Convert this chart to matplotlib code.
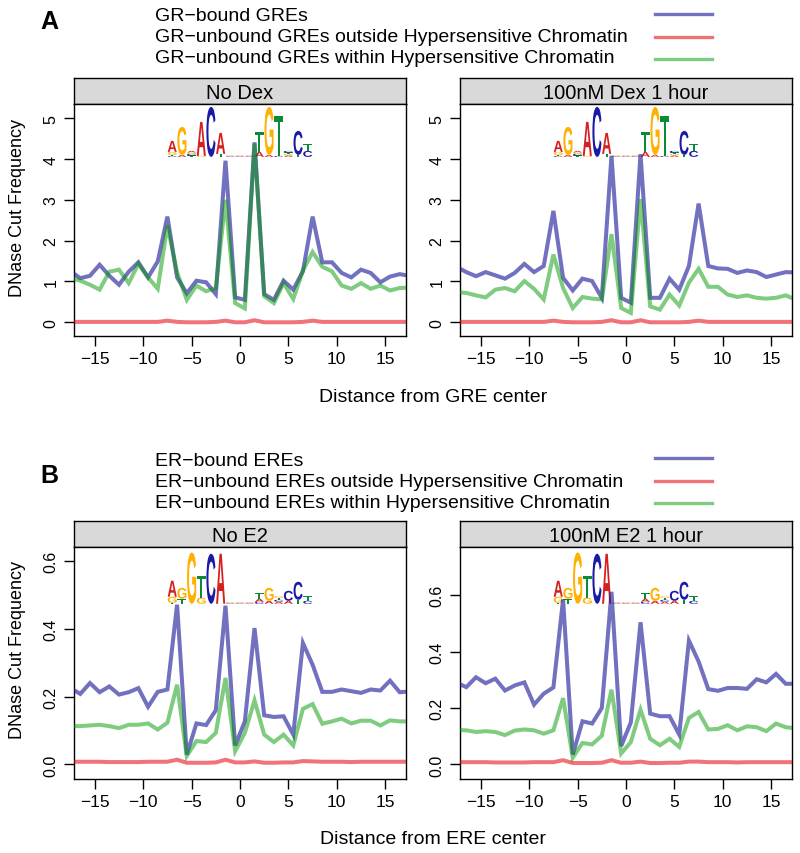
import numpy as np
import matplotlib
matplotlib.use("Agg")
import matplotlib.pyplot as plt
import matplotlib.transforms as mtransforms
from matplotlib.lines import Line2D
from matplotlib.path import Path
from matplotlib.patches import PathPatch
from matplotlib.textpath import TextPath
from matplotlib.font_manager import FontProperties

plt.rcParams['font.family'] = ['Liberation Sans', 'DejaVu Sans']

# positions relative to the motif centre
pos = np.arange(-17.5, 18, 1.0)

# panel A : GREs
gre_bound_nodex = [1.25, 1.08, 1.14, 1.41, 1.14, 0.92, 1.24, 1.47, 1.10, 1.49, 2.59, 1.10,
                   0.71, 1.02, 0.98, 0.69, 3.96, 0.61, 0.55, 4.41, 0.69, 0.55, 1.02, 0.80,
                   1.25, 2.59, 1.47, 1.47, 1.21, 1.10, 1.29, 1.21, 0.98, 1.12, 1.18, 1.14]
gre_out_nodex = [0.01, 0.01, 0.01, 0.01, 0.01, 0.01, 0.01, 0.01, 0.01, 0.01, 0.04, 0.01,
                 0.00, 0.00, 0.00, 0.01, 0.04, 0.00, 0.00, 0.05, 0.00, 0.00, 0.00, 0.00,
                 0.01, 0.04, 0.01, 0.01, 0.01, 0.01, 0.01, 0.01, 0.01, 0.01, 0.01, 0.01]
gre_in_nodex = [1.08, 1.02, 0.92, 0.80, 1.24, 1.29, 0.96, 1.43, 1.10, 0.82, 2.37, 1.23,
                0.55, 0.90, 0.76, 0.84, 3.00, 0.47, 0.34, 4.38, 0.64, 0.47, 0.96, 0.57,
                1.27, 1.72, 1.36, 1.25, 0.90, 0.82, 0.96, 0.82, 0.90, 0.78, 0.84, 0.85]

gre_bound_dex = [1.36, 1.23, 1.13, 1.23, 1.15, 1.07, 1.21, 1.43, 1.23, 1.38, 2.73, 1.09,
                 0.78, 1.07, 1.01, 0.60, 4.08, 0.60, 0.48, 4.12, 0.60, 0.60, 1.07, 0.80,
                 1.38, 2.91, 1.38, 1.32, 1.31, 1.21, 1.27, 1.23, 1.11, 1.17, 1.23, 1.22]
gre_out_dex = [0.01, 0.01, 0.01, 0.01, 0.01, 0.01, 0.01, 0.01, 0.01, 0.01, 0.04, 0.01,
               0.00, 0.00, 0.00, 0.01, 0.05, 0.00, 0.00, 0.05, 0.00, 0.00, 0.00, 0.00,
               0.01, 0.04, 0.01, 0.01, 0.01, 0.01, 0.01, 0.01, 0.01, 0.01, 0.01, 0.01]
gre_in_dex = [0.74, 0.72, 0.66, 0.61, 0.80, 0.84, 0.76, 1.01, 0.82, 0.56, 1.66, 0.84,
              0.35, 0.62, 0.58, 0.56, 2.16, 0.35, 0.23, 3.02, 0.39, 0.31, 0.68, 0.41,
              0.97, 1.31, 0.87, 0.87, 0.68, 0.62, 0.66, 0.60, 0.58, 0.60, 0.66, 0.56]

# panel B : EREs
ere_bound_noe2 = [0.225, 0.208, 0.240, 0.213, 0.230, 0.206, 0.213, 0.225, 0.170, 0.214, 0.221, 0.471,
                  0.029, 0.121, 0.116, 0.160, 0.468, 0.056, 0.127, 0.402, 0.145, 0.140, 0.142, 0.088,
                  0.358, 0.294, 0.214, 0.214, 0.221, 0.216, 0.211, 0.221, 0.218, 0.247, 0.213, 0.215]
ere_out_noe2 = [0.008, 0.008, 0.008, 0.008, 0.007, 0.007, 0.007, 0.007, 0.008, 0.008, 0.008, 0.014,
                0.005, 0.005, 0.005, 0.006, 0.014, 0.006, 0.006, 0.009, 0.005, 0.005, 0.006, 0.006,
                0.010, 0.009, 0.008, 0.008, 0.008, 0.007, 0.008, 0.008, 0.008, 0.008, 0.008, 0.008]
ere_in_noe2 = [0.113, 0.113, 0.115, 0.117, 0.113, 0.107, 0.117, 0.117, 0.121, 0.103, 0.123, 0.235,
               0.025, 0.069, 0.066, 0.093, 0.255, 0.039, 0.093, 0.189, 0.088, 0.066, 0.088, 0.056,
               0.164, 0.178, 0.120, 0.127, 0.135, 0.121, 0.129, 0.129, 0.115, 0.130, 0.127, 0.127]

ere_bound_e2 = [0.290, 0.274, 0.309, 0.288, 0.304, 0.262, 0.280, 0.291, 0.212, 0.251, 0.273, 0.585,
                0.035, 0.153, 0.145, 0.200, 0.612, 0.065, 0.149, 0.504, 0.180, 0.171, 0.171, 0.106,
                0.439, 0.365, 0.267, 0.261, 0.271, 0.271, 0.268, 0.302, 0.291, 0.321, 0.286, 0.286]
ere_out_e2 = [0.008, 0.008, 0.008, 0.008, 0.007, 0.007, 0.007, 0.007, 0.008, 0.008, 0.008, 0.015,
              0.005, 0.005, 0.005, 0.006, 0.015, 0.006, 0.006, 0.010, 0.005, 0.005, 0.006, 0.006,
              0.010, 0.010, 0.008, 0.008, 0.008, 0.007, 0.008, 0.008, 0.008, 0.008, 0.008, 0.008]
ere_in_e2 = [0.122, 0.121, 0.115, 0.118, 0.115, 0.104, 0.120, 0.124, 0.121, 0.109, 0.121, 0.235,
             0.024, 0.076, 0.071, 0.102, 0.265, 0.039, 0.079, 0.194, 0.091, 0.068, 0.091, 0.062,
             0.165, 0.186, 0.124, 0.126, 0.139, 0.121, 0.135, 0.132, 0.118, 0.145, 0.132, 0.128]

gre_labels = ["GR\u2212bound GREs",
              "GR\u2212unbound GREs outside Hypersensitive Chromatin",
              "GR\u2212unbound GREs within Hypersensitive Chromatin"]
ere_labels = ["ER\u2212bound EREs",
              "ER\u2212unbound EREs outside Hypersensitive Chromatin",
              "ER\u2212unbound EREs within Hypersensitive Chromatin"]

# sequence logos: one stack per motif position (-7..7), bottom to top, heights in bits
logo_pos = list(range(-7, 8))
gre_logo = [[("C", .04), ("T", .04), ("G", .12), ("A", .44)],
            [("A", .08), ("G", 1.12)],
            [("T", .06), ("C", .06), ("G", .06), ("A", .06)],
            [("G", .04), ("A", 1.36)],
            [("C", 2.0)],
            [("T", .12), ("A", .84)],
            [("A", .02), ("C", .02), ("G", .02), ("T", .02)],
            [("A", .02), ("C", .02), ("G", .02), ("T", .02)],
            [("A", .02), ("C", .02), ("G", .02), ("T", .02)],
            [("A", .2), ("T", .8)],
            [("A", .08), ("G", 1.92)],
            [("C", .04), ("T", 1.6)],
            [("A", .06), ("G", .06), ("T", .06), ("C", .06)],
            [("T", .08), ("C", .96)],
            [("C", .24), ("T", .28)]]
ere_logo = [[("T", .04), ("G", .24), ("A", .64)],
            [("T", .2), ("G", .44)],
            [("G", 2.05)],
            [("G", .24), ("T", .88)],
            [("C", 2.0)],
            [("A", 2.0)],
            [("A", .02), ("C", .02), ("G", .02), ("T", .02)],
            [("A", .02), ("C", .02), ("G", .02), ("T", .02)],
            [("A", .02), ("C", .02), ("G", .02), ("T", .02)],
            [("C", .08), ("A", .12), ("T", .24)],
            [("A", .12), ("G", .52)],
            [("A", .08), ("C", .08), ("T", .08), ("G", .06)],
            [("A", .12), ("C", .4)],
            [("T", .16), ("C", .72)],
            [("C", .12), ("T", .2)]]
base_colors = {"A": "#D62020", "C": "#1A1AA6", "G": "#FFB000", "T": "#0B8A3A"}

line_colors = [(0.1, 0.1, 0.6), (0.9, 0.0, 0.05), (0.0, 0.6, 0.0)]
line_alpha = [0.62, 0.55, 0.5]

W, H = 800, 854
fig = plt.figure(figsize=(W / 100, H / 100), dpi=100)


def px_rect(x0, y0, x1, y1):
    return [x0 / W, 1 - y1 / H, (x1 - x0) / W, (y1 - y0) / H]


def fx(x):
    return x / W


def fy(y):
    return 1 - y / H


logo_font = FontProperties(family='Liberation Sans', weight='bold')


def draw_logo(ax, stacks, base, bit_h):
    trans = mtransforms.blended_transform_factory(ax.transData, ax.transAxes)
    for p, stack in zip(logo_pos, stacks):
        y = base
        for letter, bits in stack:
            h = bits * bit_h
            tp = TextPath((0, 0), letter, size=1, prop=logo_font)
            bb = tp.get_extents()
            verts = tp.vertices.copy()
            verts[:, 0] = p - 0.47 + (verts[:, 0] - bb.x0) / bb.width * 0.94
            verts[:, 1] = y + (verts[:, 1] - bb.y0) / bb.height * h
            ax.add_patch(PathPatch(Path(verts, tp.codes), facecolor=base_colors[letter],
                                   edgecolor='none', transform=trans, zorder=1))
            y += h


def panel(x0, x1, ys, title, series, ylim, yticks, yticklabels, logo, logo_base):
    strip = fig.add_axes(px_rect(x0, ys, x1, ys + 26))
    strip.set_facecolor('#D9D9D9')
    strip.set_xticks([])
    strip.set_yticks([])
    strip.text(0.5, 0.45, title, ha='center', va='center', fontsize=14.5, transform=strip.transAxes)

    ax = fig.add_axes(px_rect(x0, ys + 26, x1, ys + 258))
    draw_logo(ax, logo, logo_base, 0.1078)
    for vals, c, a in zip(series, line_colors, line_alpha):
        ax.plot(pos, vals, color=c, alpha=a, lw=2.9, solid_joinstyle='miter', zorder=3)
    ax.set_xlim(-17.15, 17.15)
    ax.set_ylim(*ylim)
    ax.set_xticks([-15, -10, -5, 0, 5, 10, 15])
    ax.set_yticks(yticks)
    ax.set_yticklabels(yticklabels, rotation=90, va='center')
    ax.tick_params(direction='out', length=7, width=1, labelsize=12.5, pad=4)
    ax.tick_params(axis='y', labelsize=11.5)
    for s in ax.spines.values():
        s.set_linewidth(1)
    for s in strip.spines.values():
        s.set_linewidth(1)
    return ax


def legend_block(letter, letter_base, labels, baselines, line_ys):
    fig.text(fx(40), fy(letter_base), letter, fontsize=18, weight='bold', va='baseline', ha='left')
    for lab, b, ly, c, a in zip(labels, baselines, line_ys, line_colors, line_alpha):
        fig.text(fx(155), fy(b), lab, fontsize=14, va='baseline', ha='left')
        fig.add_artist(Line2D([fx(655), fx(712)], [fy(ly), fy(ly)], transform=fig.transFigure,
                              color=c, alpha=a, lw=2.4))


# A
legend_block("A", 29, gre_labels, [21, 42, 63], [14.5, 38, 59.5])
panel(74, 406, 79, "No Dex", [gre_bound_nodex, gre_out_nodex, gre_in_nodex],
      (-0.336, 5.35), [0, 1, 2, 3, 4, 5], ["0", "1", "2", "3", "4", "5"], gre_logo, 0.772)
panel(460, 792, 79, "100nM Dex 1 hour", [gre_bound_dex, gre_out_dex, gre_in_dex],
      (-0.336, 5.35), [0, 1, 2, 3, 4, 5], ["0", "1", "2", "3", "4", "5"], gre_logo, 0.772)
fig.text(fx(433), fy(398), "Distance from GRE center", fontsize=14, ha='center', va='center')
fig.text(fx(17.5), fy(208), "DNase Cut Frequency", fontsize=13, rotation=90, ha='center', va='center')

# B
legend_block("B", 483, ere_labels, [466, 487, 508], [459, 482, 503.5])
panel(74, 406, 521.7, "No E2", [ere_bound_noe2, ere_out_noe2, ere_in_noe2],
      (-0.042, 0.642), [0, 0.2, 0.4, 0.6], ["0.0", "0.2", "0.4", "0.6"], ere_logo, 0.754)
panel(460, 792, 521.7, "100nM E2 1 hour", [ere_bound_e2, ere_out_e2, ere_in_e2],
      (-0.0506, 0.772), [0, 0.2, 0.4, 0.6], ["0.0", "0.2", "0.4", "0.6"], ere_logo, 0.754)
fig.text(fx(433), fy(840), "Distance from ERE center", fontsize=14, ha='center', va='center')
fig.text(fx(17.5), fy(650.5), "DNase Cut Frequency", fontsize=13, rotation=90, ha='center', va='center')

fig.savefig("out.png", dpi=100)
